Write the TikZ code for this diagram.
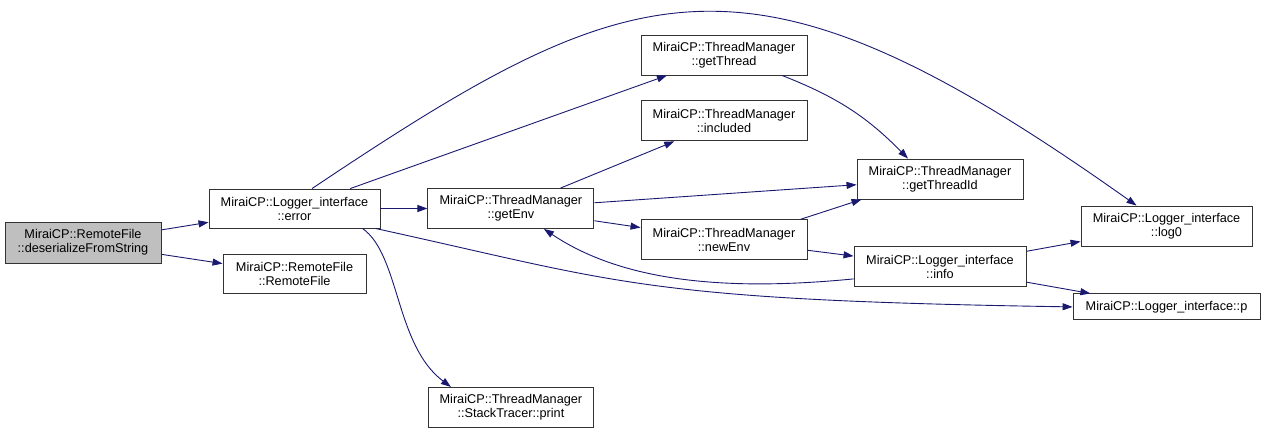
\documentclass[tikz,border=0pt]{standalone}
\usepackage{fontspec}
\setmainfont{Liberation Sans}
\usepackage{tikz}
\usetikzlibrary{arrows.meta,positioning}
\definecolor{callblue}{HTML}{191970}
\definecolor{rootgray}{HTML}{BFBFBF}

\begin{document}
\begin{tikzpicture}[x=1pt,y=-1pt,
    fn/.style={draw=black!80,fill=white,align=center,inner sep=2pt,line width=0.9pt,
      minimum width=166pt,minimum height=40pt,
      font=\fontsize{12.7}{14}\selectfont},
    root/.style={fn,fill=rootgray},
    call/.style={-{Triangle[length=10pt,width=7pt]},draw=callblue,line width=0.9pt}
  ]
    \useasboundingbox (0,0) rectangle (1265,432);
    \node[root,minimum width=156pt,minimum height=41pt] (src) at (83,242.5) {MiraiCP::RemoteFile\\::deserializeFromString};
    \node[fn,minimum width=171pt,minimum height=39pt] (error) at (294.5,208.5) {MiraiCP::Logger\_interface\\::error};
    \node[fn,minimum width=143pt,minimum height=39pt,below=26pt of error] (remote) {MiraiCP::RemoteFile\\::RemoteFile};
    \node[fn,right=47pt of error] (getEnv) {MiraiCP::ThreadManager\\::getEnv};
    \node[fn,minimum width=165pt,below=158pt of getEnv] (print) {MiraiCP::ThreadManager\\::StackTracer::print};
    \node[fn] (getThread) at (724,55) {MiraiCP::ThreadManager\\::getThread};
    \node[fn,below=25pt of getThread] (included) {MiraiCP::ThreadManager\\::included};
    \node[fn,below=78pt of included] (newEnv) {MiraiCP::ThreadManager\\::newEnv};
    \node[fn] (getThreadId) at (940,179) {MiraiCP::ThreadManager\\::getThreadId};
    \node[fn,minimum width=172pt,below=47pt of getThreadId] (info) {MiraiCP::Logger\_interface\\::info};
    \node[fn,minimum width=171pt] (log0) at (1166.5,226) {MiraiCP::Logger\_interface\\::log0};
    \node[fn,minimum width=187pt,minimum height=26pt,below=47pt of log0] (p) {MiraiCP::Logger\_interface::p};
    % calls from the root
    \draw[call] (src) -- (error);
    \draw[call] (src) -- (remote);
    % calls from error
    \draw[call] (error) -- (getEnv);
    \draw[call] (error) -- (getThread);
    \draw[call] ([xshift=17.5pt]error.north) .. controls (636,-28) and (747,-71) .. ([xshift=-30pt]log0.north);
    \draw[call] ([xshift=68pt]error.south) .. controls (400,255) and (395,345) .. ([xshift=-60pt]print.north);
    \draw[call] ([xshift=-5pt]error.south east) .. controls (620,282) and (640,300) .. (p.west);
    % calls from getEnv and below
    \draw[call] (getEnv) -- (included);
    \draw[call] (getEnv) -- (getThreadId);
    \draw[call] (getEnv) -- (newEnv);
    \draw[call] ([xshift=58pt]getThread.south) to[bend left=12] ([xshift=-32pt]getThreadId.north);
    \draw[call] ([xshift=-7pt]newEnv.north east) -- ([xshift=5pt]getThreadId.south west);
    \draw[call] (newEnv) -- (info);
    \draw[call] ([yshift=-12pt]info.west) .. controls (720,292) and (620,280) .. ([xshift=33pt]getEnv.south);
    \draw[call] (info) -- (log0);
    \draw[call] (info) -- (p);
  \end{tikzpicture}
\end{document}
